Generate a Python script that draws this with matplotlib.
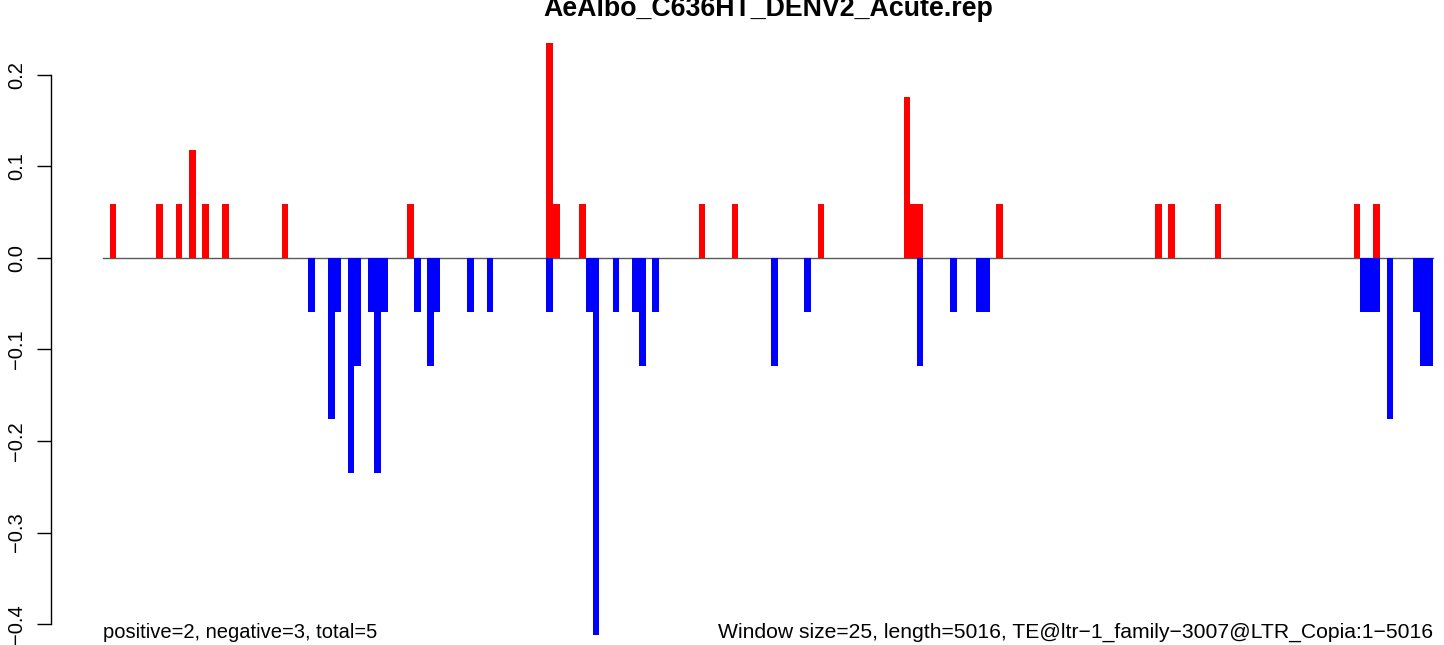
import numpy as np
import matplotlib
matplotlib.use('Agg')
from matplotlib import pyplot as plt

plt.rcParams['font.family'] = ['Liberation Sans', 'DejaVu Sans']

title = 'AeAlbo_C636HT_DENV2_Acute.rep'
n_windows = 201

# windows with positive / negative values (index, value)
pos_idx = [1, 8, 11, 13, 15, 18, 27, 46, 67, 68, 72, 90, 95, 108,
           121, 122, 123, 135, 159, 161, 168, 189, 192]
pos_val = [0.0588, 0.0588, 0.0588, 0.1176, 0.0588, 0.0588, 0.0588, 0.0588,
           0.2353, 0.0588, 0.0588, 0.0588, 0.0588, 0.0588,
           0.1765, 0.0588, 0.0588, 0.0588, 0.0588, 0.0588, 0.0588, 0.0588, 0.0588]

neg_idx = [31, 34, 35, 37, 38, 40, 41, 42, 47, 49, 50, 55, 58, 67, 73, 74,
           77, 80, 81, 83, 101, 106, 123, 128, 132, 133, 190, 191, 192,
           194, 198, 199, 200]
neg_val = [-0.0588, -0.1765, -0.0588, -0.2353, -0.1176, -0.0588, -0.2353, -0.0588,
           -0.0588, -0.1176, -0.0588, -0.0588, -0.0588, -0.0588, -0.0588, -0.4118,
           -0.0588, -0.0588, -0.1176, -0.0588, -0.1176, -0.0588, -0.1176, -0.0588,
           -0.0588, -0.0588, -0.0588, -0.0588, -0.0588, -0.1765, -0.0588, -0.1176,
           -0.1176]

yticks = [-0.4, -0.3, -0.2, -0.1, 0.0, 0.1, 0.2]
ytick_labels = ['\u22120.4', '\u22120.3', '\u22120.2', '\u22120.1', '0.0', '0.1', '0.2']

left_note = 'positive=2, negative=3, total=5'
right_note = 'Window size=25, length=5016, TE@ltr\u22121_family\u22123007@LTR_Copia:1\u22125016'

W, H = 1444, 645
fig = plt.figure(figsize=(W / 100, H / 100), dpi=100)
ax = fig.add_axes([51 / W, 0, 1 - 51 / W, 1])

unit = 1330 / 201
ax.set_xlim((51 - 103) / unit, (W - 103) / unit)
ax.set_ylim((258 - 645) / 915, 258 / 915)

ax.bar(pos_idx, pos_val, width=1, align='edge', color='#FF0000', linewidth=0)
ax.bar(neg_idx, neg_val, width=1, align='edge', color='#0000FF', linewidth=0)
ax.plot([0, n_windows], [0, 0], color='#595959', linewidth=1.0, zorder=0.5)

for s in ['top', 'right', 'bottom']:
    ax.spines[s].set_visible(False)
ax.spines['left'].set_bounds(-0.4, 0.2)
ax.spines['left'].set_linewidth(1.0)
ax.set_xticks([])
ax.set_yticks(yticks)
ax.set_yticklabels(ytick_labels, rotation=90, va='center', fontsize=14.5)
ax.tick_params(axis='y', length=10, width=1.0, pad=8)

ax.text(0, -0.409, left_note, ha='left', va='center', fontsize=14.5)
ax.text(n_windows, -0.409, right_note, ha='right', va='center', fontsize=15.2)

fig.text(768 / W, 1 - 16 / H, title, ha='center', va='baseline',
         fontsize=19.3, fontweight='bold')

fig.savefig('out.png', dpi=100)
